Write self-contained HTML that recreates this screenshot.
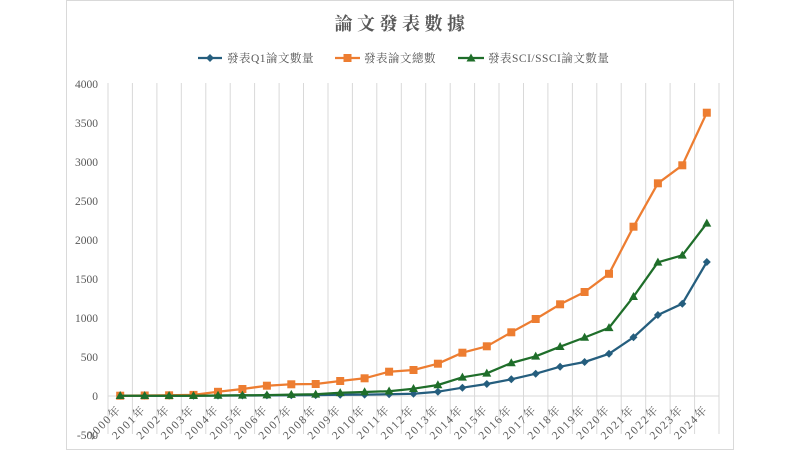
<!DOCTYPE html>
<html><head><meta charset="utf-8"><style>
html,body{margin:0;padding:0;background:#fff;}
svg{display:block;}
text{font-family:"Liberation Serif","Noto Serif CJK SC",serif;fill:#595959;}
</style></head><body>
<svg width="800" height="450" viewBox="0 0 800 450" xmlns="http://www.w3.org/2000/svg">
<rect x="0" y="0" width="800" height="450" fill="#fff"/>
<rect x="66.5" y="0.5" width="667" height="449" fill="#fff" stroke="#d9d9d9" stroke-width="1"/>
<text x="402" y="30" font-size="18" font-weight="bold" letter-spacing="4.5" text-anchor="middle">論文發表數據</text>
<g stroke="#d9d9d9" stroke-width="1">
<line x1="108" y1="83" x2="108" y2="434"/><line x1="132.4" y1="83" x2="132.4" y2="434"/><line x1="156.9" y1="83" x2="156.9" y2="434"/><line x1="181.3" y1="83" x2="181.3" y2="434"/><line x1="205.8" y1="83" x2="205.8" y2="434"/><line x1="230.2" y1="83" x2="230.2" y2="434"/><line x1="254.6" y1="83" x2="254.6" y2="434"/><line x1="279.1" y1="83" x2="279.1" y2="434"/><line x1="303.5" y1="83" x2="303.5" y2="434"/><line x1="328" y1="83" x2="328" y2="434"/><line x1="352.4" y1="83" x2="352.4" y2="434"/><line x1="376.8" y1="83" x2="376.8" y2="434"/><line x1="401.3" y1="83" x2="401.3" y2="434"/><line x1="425.7" y1="83" x2="425.7" y2="434"/><line x1="450.2" y1="83" x2="450.2" y2="434"/><line x1="474.6" y1="83" x2="474.6" y2="434"/><line x1="499" y1="83" x2="499" y2="434"/><line x1="523.5" y1="83" x2="523.5" y2="434"/><line x1="547.9" y1="83" x2="547.9" y2="434"/><line x1="572.4" y1="83" x2="572.4" y2="434"/><line x1="596.8" y1="83" x2="596.8" y2="434"/><line x1="621.2" y1="83" x2="621.2" y2="434"/><line x1="645.7" y1="83" x2="645.7" y2="434"/><line x1="670.1" y1="83" x2="670.1" y2="434"/><line x1="694.6" y1="83" x2="694.6" y2="434"/><line x1="719" y1="83" x2="719" y2="434"/>
<line x1="108" y1="396" x2="719" y2="396"/>
</g>
<g font-size="11.5" text-anchor="end">
<text x="98" y="88">4000</text>
<text x="98" y="127">3500</text>
<text x="98" y="166">3000</text>
<text x="98" y="205">2500</text>
<text x="98" y="244">2000</text>
<text x="98" y="283">1500</text>
<text x="98" y="322">1000</text>
<text x="98" y="361">500</text>
<text x="98" y="400">0</text>
<text x="98" y="439">-500</text>
</g>
<g font-size="11.5" text-anchor="end" letter-spacing="1.6">
<text transform="translate(122,410) rotate(-45)">2000年</text>
<text transform="translate(146.5,410) rotate(-45)">2001年</text>
<text transform="translate(171,410) rotate(-45)">2002年</text>
<text transform="translate(195.4,410) rotate(-45)">2003年</text>
<text transform="translate(219.8,410) rotate(-45)">2004年</text>
<text transform="translate(244.3,410) rotate(-45)">2005年</text>
<text transform="translate(268.7,410) rotate(-45)">2006年</text>
<text transform="translate(293.1,410) rotate(-45)">2007年</text>
<text transform="translate(317.6,410) rotate(-45)">2008年</text>
<text transform="translate(342,410) rotate(-45)">2009年</text>
<text transform="translate(366.5,410) rotate(-45)">2010年</text>
<text transform="translate(390.9,410) rotate(-45)">2011年</text>
<text transform="translate(415.3,410) rotate(-45)">2012年</text>
<text transform="translate(439.8,410) rotate(-45)">2013年</text>
<text transform="translate(464.2,410) rotate(-45)">2014年</text>
<text transform="translate(488.7,410) rotate(-45)">2015年</text>
<text transform="translate(513.1,410) rotate(-45)">2016年</text>
<text transform="translate(537.5,410) rotate(-45)">2017年</text>
<text transform="translate(562,410) rotate(-45)">2018年</text>
<text transform="translate(586.4,410) rotate(-45)">2019年</text>
<text transform="translate(610.9,410) rotate(-45)">2020年</text>
<text transform="translate(635.3,410) rotate(-45)">2021年</text>
<text transform="translate(659.7,410) rotate(-45)">2022年</text>
<text transform="translate(684.2,410) rotate(-45)">2023年</text>
<text transform="translate(708.6,410) rotate(-45)">2024年</text>
</g>
<!-- Q1 series (blue) -->
<polyline fill="none" stroke="#255e7e" stroke-width="2.25" stroke-linejoin="round" points="120.2,395.7 144.7,395.7 169.1,395.7 193.5,395.7 218,395.6 242.4,395.5 266.9,395.4 291.3,395.2 315.7,395.1 340.2,394.8 364.6,394.6 389.1,394.3 413.5,393.7 437.9,391.7 462.4,387.7 486.8,384 511.3,379.3 535.7,373.7 560.1,366.7 584.6,362 609,353.8 633.5,337.3 657.9,315 682.3,303.7 706.8,262"/>
<g fill="#255e7e">
<polygon points="120.2,391.7 124.2,395.7 120.2,399.7 116.2,395.7"/><polygon points="144.7,391.7 148.7,395.7 144.7,399.7 140.7,395.7"/><polygon points="169.1,391.7 173.1,395.7 169.1,399.7 165.1,395.7"/><polygon points="193.5,391.7 197.5,395.7 193.5,399.7 189.5,395.7"/><polygon points="218,391.6 222,395.6 218,399.6 214,395.6"/><polygon points="242.4,391.5 246.4,395.5 242.4,399.5 238.4,395.5"/><polygon points="266.9,391.4 270.9,395.4 266.9,399.4 262.9,395.4"/><polygon points="291.3,391.2 295.3,395.2 291.3,399.2 287.3,395.2"/><polygon points="315.7,391.1 319.7,395.1 315.7,399.1 311.7,395.1"/><polygon points="340.2,390.8 344.2,394.8 340.2,398.8 336.2,394.8"/><polygon points="364.6,390.6 368.6,394.6 364.6,398.6 360.6,394.6"/><polygon points="389.1,390.3 393.1,394.3 389.1,398.3 385.1,394.3"/><polygon points="413.5,389.7 417.5,393.7 413.5,397.7 409.5,393.7"/><polygon points="437.9,387.7 441.9,391.7 437.9,395.7 433.9,391.7"/><polygon points="462.4,383.7 466.4,387.7 462.4,391.7 458.4,387.7"/><polygon points="486.8,380 490.8,384 486.8,388 482.8,384"/><polygon points="511.3,375.3 515.3,379.3 511.3,383.3 507.3,379.3"/><polygon points="535.7,369.7 539.7,373.7 535.7,377.7 531.7,373.7"/><polygon points="560.1,362.7 564.1,366.7 560.1,370.7 556.1,366.7"/><polygon points="584.6,358 588.6,362 584.6,366 580.6,362"/><polygon points="609,349.8 613,353.8 609,357.8 605,353.8"/><polygon points="633.5,333.3 637.5,337.3 633.5,341.3 629.5,337.3"/><polygon points="657.9,311 661.9,315 657.9,319 653.9,315"/><polygon points="682.3,299.7 686.3,303.7 682.3,307.7 678.3,303.7"/><polygon points="706.8,258 710.8,262 706.8,266 702.8,262"/>
</g>
<!-- Total series (orange) -->
<polyline fill="none" stroke="#ed7d31" stroke-width="2.25" stroke-linejoin="round" points="120.2,395.7 144.7,395.5 169.1,395.3 193.5,394.9 218,391.8 242.4,389 266.9,385.7 291.3,384.3 315.7,384 340.2,381 364.6,378.3 389.1,371.7 413.5,370 437.9,363.7 462.4,352.7 486.8,346.3 511.3,332.3 535.7,319 560.1,304.3 584.6,292 609,273.8 633.5,226.7 657.9,183.3 682.3,165.3 706.8,112.7"/>
<g fill="#ed7d31">
<rect x="116.2" y="391.7" width="8" height="8"/><rect x="140.7" y="391.5" width="8" height="8"/><rect x="165.1" y="391.3" width="8" height="8"/><rect x="189.5" y="390.9" width="8" height="8"/><rect x="214" y="387.8" width="8" height="8"/><rect x="238.4" y="385" width="8" height="8"/><rect x="262.9" y="381.7" width="8" height="8"/><rect x="287.3" y="380.3" width="8" height="8"/><rect x="311.7" y="380" width="8" height="8"/><rect x="336.2" y="377" width="8" height="8"/><rect x="360.6" y="374.3" width="8" height="8"/><rect x="385.1" y="367.7" width="8" height="8"/><rect x="409.5" y="366" width="8" height="8"/><rect x="433.9" y="359.7" width="8" height="8"/><rect x="458.4" y="348.7" width="8" height="8"/><rect x="482.8" y="342.3" width="8" height="8"/><rect x="507.3" y="328.3" width="8" height="8"/><rect x="531.7" y="315" width="8" height="8"/><rect x="556.1" y="300.3" width="8" height="8"/><rect x="580.6" y="288" width="8" height="8"/><rect x="605" y="269.8" width="8" height="8"/><rect x="629.5" y="222.7" width="8" height="8"/><rect x="653.9" y="179.3" width="8" height="8"/><rect x="678.3" y="161.3" width="8" height="8"/><rect x="702.8" y="108.7" width="8" height="8"/>
</g>
<!-- SCI/SSCI series (green) -->
<polyline fill="none" stroke="#1f6e2a" stroke-width="2.25" stroke-linejoin="round" points="120.2,395.7 144.7,395.7 169.1,395.7 193.5,395.7 218,395.5 242.4,395.3 266.9,395.1 291.3,394.6 315.7,394.3 340.2,392.8 364.6,392 389.1,391.2 413.5,388.7 437.9,385 462.4,377.3 486.8,373.3 511.3,363 535.7,356.3 560.1,346.7 584.6,337.5 609,327.8 633.5,296.7 657.9,262.3 682.3,255.3 706.8,223.3"/>
<g fill="#1f6e2a">
<polygon points="120.2,391 124.7,399 115.7,399"/><polygon points="144.7,391 149.2,399 140.2,399"/><polygon points="169.1,391 173.6,399 164.6,399"/><polygon points="193.5,391 198,399 189,399"/><polygon points="218,390.8 222.5,398.8 213.5,398.8"/><polygon points="242.4,390.6 246.9,398.6 237.9,398.6"/><polygon points="266.9,390.4 271.4,398.4 262.4,398.4"/><polygon points="291.3,389.9 295.8,397.9 286.8,397.9"/><polygon points="315.7,389.6 320.2,397.6 311.2,397.6"/><polygon points="340.2,388.1 344.7,396.1 335.7,396.1"/><polygon points="364.6,387.3 369.1,395.3 360.1,395.3"/><polygon points="389.1,386.5 393.6,394.5 384.6,394.5"/><polygon points="413.5,384 418,392 409,392"/><polygon points="437.9,380.3 442.4,388.3 433.4,388.3"/><polygon points="462.4,372.6 466.9,380.6 457.9,380.6"/><polygon points="486.8,368.6 491.3,376.6 482.3,376.6"/><polygon points="511.3,358.3 515.8,366.3 506.8,366.3"/><polygon points="535.7,351.6 540.2,359.6 531.2,359.6"/><polygon points="560.1,342 564.6,350 555.6,350"/><polygon points="584.6,332.8 589.1,340.8 580.1,340.8"/><polygon points="609,323.1 613.5,331.1 604.5,331.1"/><polygon points="633.5,292 638,300 629,300"/><polygon points="657.9,257.6 662.4,265.6 653.4,265.6"/><polygon points="682.3,250.6 686.8,258.6 677.8,258.6"/><polygon points="706.8,218.6 711.3,226.6 702.3,226.6"/>
</g>
<!-- Legend -->
<line x1="198" y1="58" x2="222" y2="58" stroke="#255e7e" stroke-width="2.25"/>
<polygon points="210,54 214,58 210,62 206,58" fill="#255e7e"/>
<text x="227" y="62" font-size="11.5" letter-spacing="0.5">發表Q1論文數量</text>
<line x1="335" y1="58" x2="360" y2="58" stroke="#ed7d31" stroke-width="2.25"/>
<rect x="343.5" y="54" width="8" height="8" fill="#ed7d31"/>
<text x="364" y="62" font-size="11.5" letter-spacing="0.5">發表論文總數</text>
<line x1="458" y1="58" x2="484" y2="58" stroke="#1f6e2a" stroke-width="2.25"/>
<polygon points="471,53.5 475.5,61.5 466.5,61.5" fill="#1f6e2a"/>
<text x="488" y="62" font-size="11.5" letter-spacing="0.5">發表SCI/SSCI論文數量</text>
</svg>
</body></html>
